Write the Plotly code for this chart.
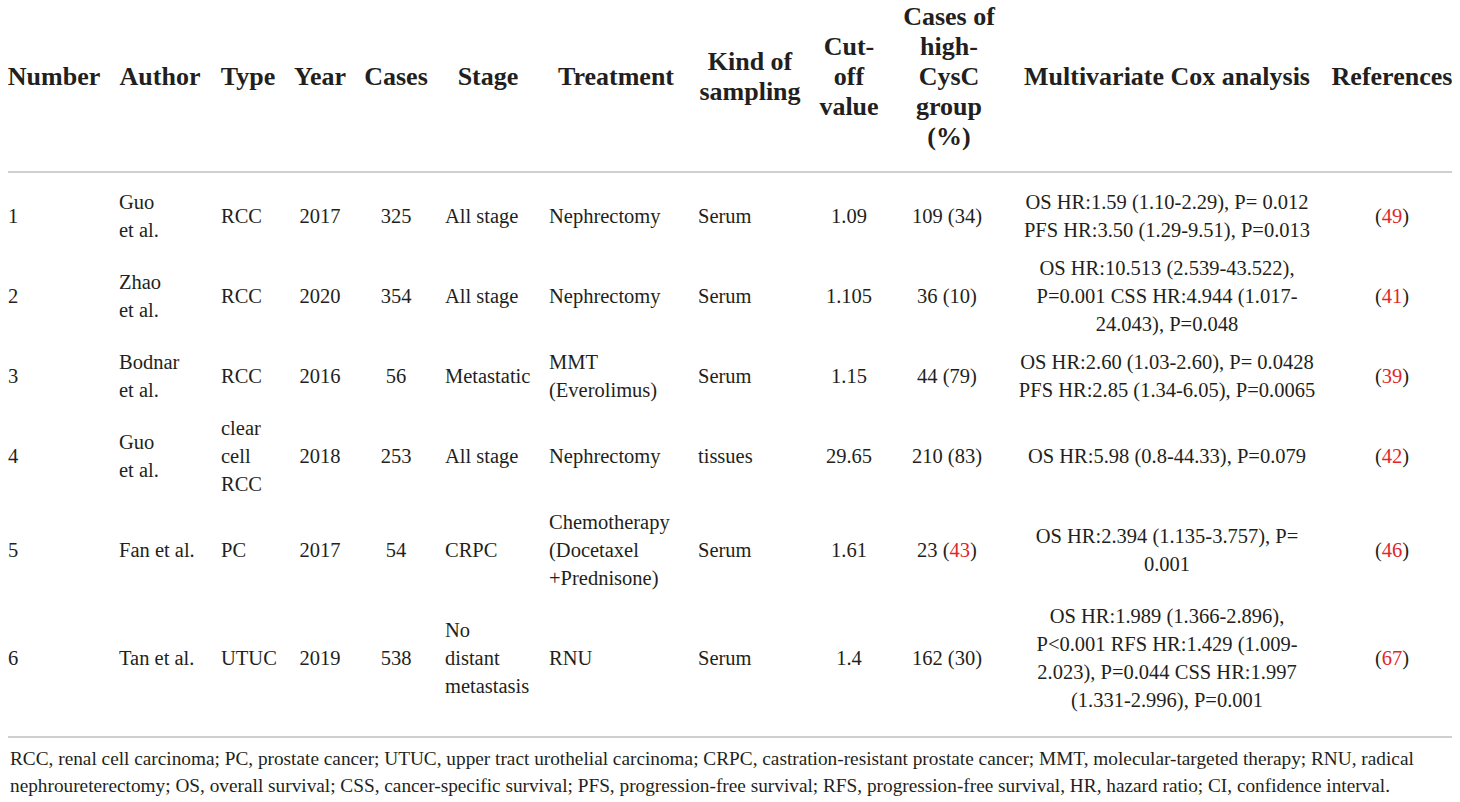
import plotly.graph_objects as go

# Intestazioni e dati della tabella
headers = ["Number", "Author", "Type", "Year", "Cases", "Stage", "Treatment",
           "Kind of<br>sampling", "Cut-<br>off<br>value",
           "Cases of<br>high-<br>CysC<br>group<br>(%)",
           "Multivariate Cox analysis", "References"]


def ref(n):
    # numero di riferimento in rosso
    return "<span style='color:#e0262b'>" + n + "</span>"


numbers = ["1", "2", "3", "4", "5", "6"]
authors = ["Guo<br>et al.", "Zhao<br>et al.", "Bodnar<br>et al.", "Guo<br>et al.",
           "Fan et al.", "Tan et al."]
types = ["RCC", "RCC", "RCC", "clear<br>cell<br>RCC", "PC", "UTUC"]
years = ["2017", "2020", "2016", "2018", "2017", "2019"]
cases = ["325", "354", "56", "253", "54", "538"]
stages = ["All stage", "All stage", "Metastatic", "All stage", "CRPC",
          "No<br>distant<br>metastasis"]
treatments = ["Nephrectomy", "Nephrectomy", "MMT<br>(Everolimus)", "Nephrectomy",
              "Chemotherapy<br>(Docetaxel<br>+Prednisone)", "RNU"]
sampling = ["Serum", "Serum", "Serum", "tissues", "Serum", "Serum"]
cutoffs = ["1.09", "1.105", "1.15", "29.65", "1.61", "1.4"]
high_cysc = ["109 (34)", "36 (10)", "44 (79)", "210 (83)",
             "23 (" + ref("43") + ")", "162 (30)"]
cox = [
    "OS HR:1.59 (1.10-2.29), P= 0.012<br>PFS HR:3.50 (1.29-9.51), P=0.013",
    "OS HR:10.513 (2.539-43.522),<br>P=0.001 CSS HR:4.944 (1.017-<br>24.043), P=0.048",
    "OS HR:2.60 (1.03-2.60), P= 0.0428<br>PFS HR:2.85 (1.34-6.05), P=0.0065",
    "OS HR:5.98 (0.8-44.33), P=0.079",
    "OS HR:2.394 (1.135-3.757), P=<br>0.001",
    "OS HR:1.989 (1.366-2.896),<br>P&lt;0.001 RFS HR:1.429 (1.009-<br>2.023), P=0.044 CSS HR:1.997<br>(1.331-2.996), P=0.001",
]
refs = ["49", "41", "39", "42", "46", "67"]
references = ["(" + ref(r) + ")" for r in refs]

footnote = [
    "RCC, renal cell carcinoma; PC, prostate cancer; UTUC, upper tract urothelial carcinoma; "
    "CRPC, castration-resistant prostate cancer; MMT, molecular-targeted therapy; RNU, radical",
    "nephroureterectomy; OS, overall survival; CSS, cancer-specific survival; PFS, progression-free "
    "survival; RFS, progression-free survival, HR, hazard ratio; CI, confidence interval.",
]

columns = [numbers, authors, types, years, cases, stages, treatments, sampling,
           cutoffs, high_cysc, cox, references]

# Layout colonne
col_x = [8, 119, 221, 320, 396, 445, 549, 698, 849, 947, 1167, 1392]
head_x = [54, 160, 248, 320, 396, 488, 616, 750, 849, 949, 1167, 1392]
col_pos = ["middle right", "middle right", "middle right", "middle center",
           "middle center", "middle right", "middle right", "middle right",
           "middle center", "middle center", "middle center", "middle center"]

FONT = "Liberation Serif"
INK = "#231f20"
W, H = 1460, 802
pitch, pad, top = 28, 10, 185
head_pitch, head_y = 30, 78

# Altezza delle righe in base al numero di linee
n_lines = [max(len(col[i].split("<br>")) for col in columns) for i in range(len(numbers))]
row_y = []
y = top
for n in n_lines:
    h = n * pitch + pad
    row_y.append(y + h / 2)
    y += h

fig = go.Figure()

# Intestazioni
hx, hy, ht = [], [], []
for x, label in zip(head_x, headers):
    parts = label.split("<br>")
    for k, p in enumerate(parts):
        hx.append(x)
        hy.append(head_y + (k - (len(parts) - 1) / 2) * head_pitch)
        ht.append("<b>" + p + "</b>")
fig.add_trace(go.Scatter(
    x=hx, y=hy, text=ht, mode="text", textposition="middle center",
    textfont=dict(family=FONT, size=26, color=INK),
    hoverinfo="skip", cliponaxis=False
))

# Celle
for col, x, pos in zip(columns, col_x, col_pos):
    cx, cy, ct = [], [], []
    for i, cell in enumerate(col):
        parts = cell.split("<br>")
        for k, p in enumerate(parts):
            cx.append(x)
            cy.append(row_y[i] + (k - (len(parts) - 1) / 2) * pitch)
            ct.append(p)
    fig.add_trace(go.Scatter(
        x=cx, y=cy, text=ct, mode="text", textposition=pos,
        textfont=dict(family=FONT, size=20.5, color=INK),
        hoverinfo="skip", cliponaxis=False
    ))

# Note a piè di tabella
for k, line in enumerate(footnote):
    fig.add_annotation(x=8, y=758 + k * 27.5, xref="x", yref="y", text=line,
                       showarrow=False, xanchor="left", yanchor="middle",
                       font=dict(family=FONT, size=19.3, color=INK))

# Linee orizzontali
for yl in [172, 737]:
    fig.add_shape(type="line", x0=8, x1=1452, y0=yl, y1=yl, xref="x", yref="y",
                  line=dict(color="#cfcfcf", width=2))

fig.update_layout(
    width=W, height=H,
    showlegend=False,
    margin=dict(l=0, r=0, t=0, b=0),
    plot_bgcolor="white", paper_bgcolor="white",
    xaxis=dict(range=[0, W], visible=False, fixedrange=True),
    yaxis=dict(range=[H, 0], visible=False, fixedrange=True),
)

fig.write_html("out.html", config={"displayModeBar": False},
               post_script="document.body.style.margin='0px';")
